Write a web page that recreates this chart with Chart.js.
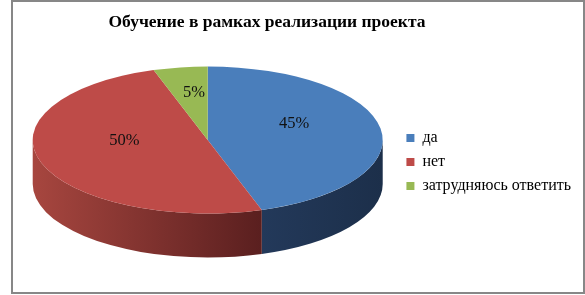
<!DOCTYPE html>
<html>
<head>
<meta charset="utf-8">
<script src="https://cdn.jsdelivr.net/npm/chart.js@4"></script>
<style>
  html,body{margin:0;padding:0;background:#fff}
  #wrap{width:585px;height:295px}
</style>
</head>
<body>
<div id="wrap"><canvas id="pie"></canvas></div>
<script>
// --- data ---
const chartTitle = 'Обучение в рамках реализации проекта';
const categories = ['да', 'нет', 'затрудняюсь ответить'];
const values = [45, 50, 5];

// --- look ---
const topColors = ['#4a7ebb', '#be4b48', '#98b954'];
const sideColors = [['#23395a', '#1c2f4a'], ['#a7463f', '#5a1f1f'], ['#7a9440', '#5c7030']];
const serif = '"Liberation Serif", "Times New Roman", serif';
const depth = 44, tilt = 0.42;

// рамка + заголовок
const frame = {
  id: 'frame',
  afterDraw(chart){
    const ctx = chart.ctx;
    ctx.save();
    ctx.strokeStyle = '#878787';
    ctx.lineWidth = 2;
    ctx.strokeRect(12, 1, 572, 292);
    ctx.fillStyle = '#000';
    ctx.font = 'bold 17.5px ' + serif;
    ctx.textAlign = 'center';
    ctx.textBaseline = 'middle';
    ctx.fillText(chartTitle, 267, 22);
    ctx.restore();
  }
};

// псевдо-3D: боковая стенка + сжатие круга в эллипс
const pie3d = {
  id: 'pie3d',
  beforeDatasetsDraw(chart){
    const ctx = chart.ctx;
    const arcs = chart.getDatasetMeta(0).data;
    const cx = arcs[0].x, cy = arcs[0].y, r = arcs[0].outerRadius;
    const top = cy - depth/2;
    ctx.save();
    arcs.forEach((arc, i) => {
      [0, Math.PI*2].forEach(k => {
        const lo = Math.max(arc.startAngle, k), hi = Math.min(arc.endAngle, k + Math.PI);
        if (hi <= lo) return;
        const xa = cx + r*Math.cos(lo), xb = cx + r*Math.cos(hi);
        const g = ctx.createLinearGradient(Math.min(xa, xb), 0, Math.max(xa, xb), 0);
        g.addColorStop(0, sideColors[i][0]);
        g.addColorStop(1, sideColors[i][1]);
        ctx.beginPath();
        ctx.ellipse(cx, top, r, r*tilt, 0, lo, hi);
        ctx.ellipse(cx, top + depth, r, r*tilt, 0, hi, lo, true);
        ctx.closePath();
        ctx.fillStyle = g;
        ctx.fill();
      });
    });
    ctx.translate(cx, top);
    ctx.scale(1, tilt);
    ctx.translate(-cx, -cy);
  },
  afterDatasetsDraw(chart){
    const ctx = chart.ctx;
    ctx.restore();
    const arcs = chart.getDatasetMeta(0).data;
    const total = values.reduce((a, b) => a + b, 0);
    ctx.save();
    ctx.font = '16.5px ' + serif;
    ctx.fillStyle = '#111';
    ctx.textAlign = 'center';
    ctx.textBaseline = 'middle';
    arcs.forEach((arc, i) => {
      const p = arc.getCenterPoint();
      const top = arc.y - depth/2;
      const y = top + (p.y - arc.y)*tilt - 11;
      ctx.fillText(Math.round(values[i]/total*100) + '%', p.x, y);
    });
    ctx.restore();
  }
};

new Chart(document.getElementById('pie'), {
  type: 'pie',
  data: {
    labels: categories,
    datasets: [{
      data: values,
      backgroundColor: topColors,
      borderWidth: 0,
      radius: 175,
      clip: false
    }]
  },
  options: {
    responsive: true,
    maintainAspectRatio: false,
    animation: false,
    events: [],
    layout: {padding: {left: 17, right: 4, top: 40, bottom: 11}},
    plugins: {
      title: {display: false},
      tooltip: {enabled: false},
      legend: {
        position: 'right',
        labels: {
          boxWidth: 8, boxHeight: 8, padding: 8,
          color: '#000',
          font: {family: serif, size: 16}
        }
      }
    }
  },
  plugins: [pie3d, frame]
});
</script>
</body>
</html>
